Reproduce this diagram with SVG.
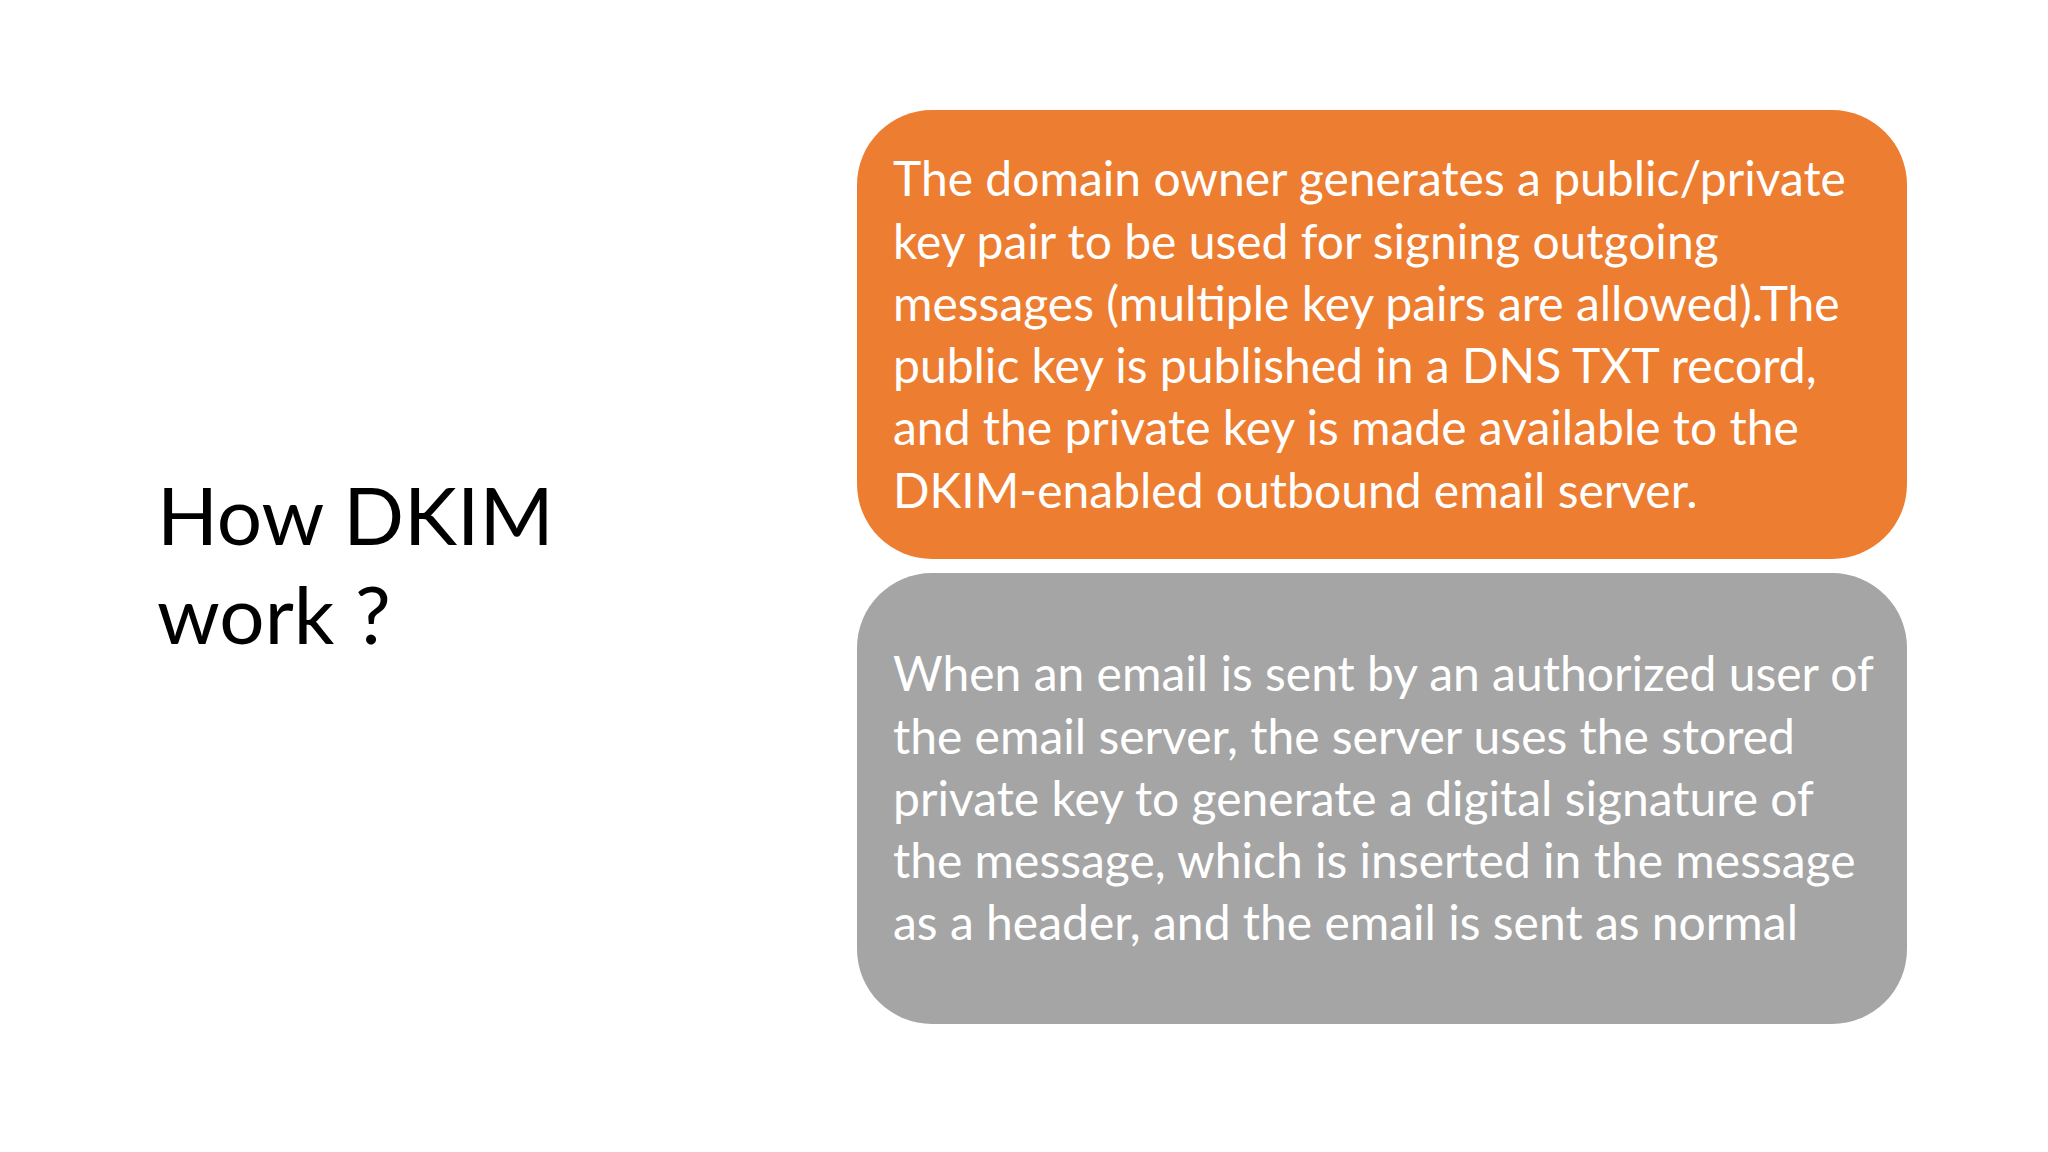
<svg xmlns="http://www.w3.org/2000/svg" width="2048" height="1152" viewBox="0 0 2048 1152">
<style>
.t{font-family:Lato,"Open Sans",sans-serif;font-size:48px;fill:#fff}
.h{font-family:Lato,"Open Sans",sans-serif;font-size:80px;fill:#000}
</style>
<rect width="2048" height="1152" fill="#fff"/>
<g id="title"><text class="h" x="157" y="545">How DKIM</text><text class="h" x="157" y="644">work ?</text></g>
<g id="box1">
<rect x="857" y="110" width="1050" height="449" rx="75" fill="#ED7D31"/>
<text class="t" x="893" y="196">The domain owner generates a public/private</text>
<text class="t" x="893" y="259">key pair to be used for signing outgoing</text>
<text class="t" x="893" y="321">messages (multiple key pairs are allowed).The</text>
<text class="t" x="893" y="383">public key is published in a DNS TXT record,</text>
<text class="t" x="893" y="445">and the private key is made available to the</text>
<text class="t" x="893" y="508">DKIM-enabled outbound email server.</text>
</g>
<g id="box2">
<rect x="857" y="573" width="1050" height="451" rx="75" fill="#A5A5A5"/>
<text class="t" x="893" y="691">When an email is sent by an authorized user of</text>
<text class="t" x="893" y="754">the email server, the server uses the stored</text>
<text class="t" x="893" y="816">private key to generate a digital signature of</text>
<text class="t" x="893" y="878">the message, which is inserted in the message</text>
<text class="t" x="893" y="940">as a header, and the email is sent as normal</text>
</g>
<g id="connectors"/>
</svg>
